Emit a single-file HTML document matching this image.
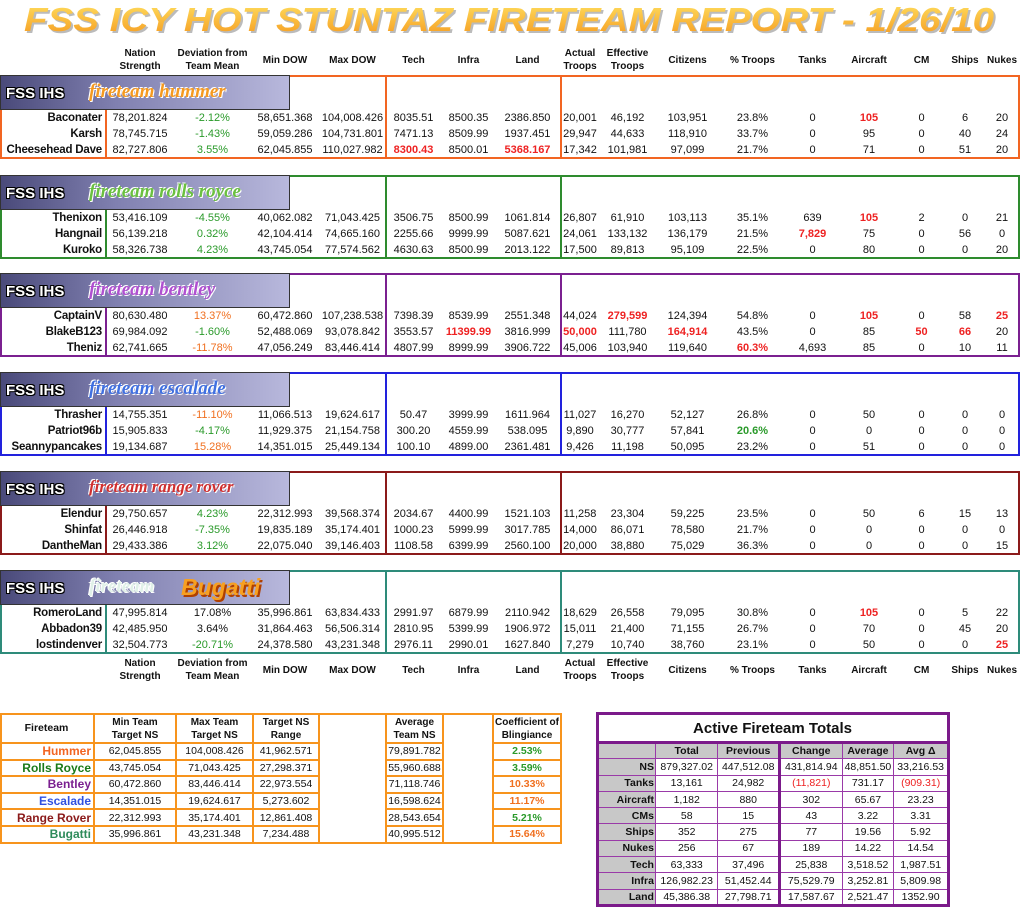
<!DOCTYPE html>
<html><head><meta charset="utf-8">
<style>
*{margin:0;padding:0;box-sizing:border-box}
body{width:1024px;height:909px;background:#fff;position:relative;overflow:hidden;font-family:"Liberation Sans",sans-serif;font-size:11px;color:#111}
.row{position:absolute;left:0;display:flex;height:16px;line-height:16px;white-space:nowrap}
.row span{text-align:center;flex:none}
.row span:nth-child(1){width:105px;text-align:right;padding-right:3px;font-weight:bold;font-size:11.5px;letter-spacing:-0.2px}
.row span:nth-child(2){width:70px}.row span:nth-child(3){width:75px}.row span:nth-child(4){width:70px}
.row span:nth-child(5){width:65px}.row span:nth-child(6){width:57px}.row span:nth-child(7){width:53px}
.row span:nth-child(8){width:65px}.row span:nth-child(9){width:40px}.row span:nth-child(10){width:55px}
.row span:nth-child(11){width:65px}.row span:nth-child(12){width:65px}.row span:nth-child(13){width:55px}
.row span:nth-child(14){width:58px}.row span:nth-child(15){width:47px}.row span:nth-child(16){width:40px}
.row span:nth-child(17){width:34px}
.hd{height:28px;line-height:13px;align-items:center;font-weight:bold;font-size:10px}
.hd span:nth-child(1){font-size:10px}
.blk{position:absolute;left:0;width:1020px;height:84px;border:2px solid}
.vl{position:absolute;top:0;bottom:0;border-left:2px solid}
.logo{position:absolute;left:-2px;top:-2px;width:290px;height:35px;background:linear-gradient(90deg,#4a4a7a,#8080b0 40%,#b8b8dc);border:1px solid #333;overflow:hidden}
.logo .f{position:absolute;left:5px;top:9px;font:bold 15px "Liberation Sans",sans-serif;color:#fff;letter-spacing:0px;text-shadow:-1px -1px 0 #000,1px -1px 0 #000,-1px 1px 0 #000,1px 1px 0 #000}
.logo .t{position:absolute;left:88px;top:5px;font:italic bold 19px "Liberation Serif",serif;color:#fff;letter-spacing:0px;text-shadow:-1px -1px 0 #fff,1px 1px 0 #fff}
.nb{position:absolute;left:-2px;top:31px;width:107px;bottom:-2px;border:2px solid}
.r{color:#ee2222;font-weight:bold}.o{color:#f07020}.g{color:#2a9a2a}
table{border-collapse:collapse;position:absolute}
</style></head><body>
<svg style="position:absolute;left:0;top:0" width="1024" height="45">
<defs><linearGradient id="tg" x1="0" y1="0" x2="0" y2="1"><stop offset="0" stop-color="#ffe060"/><stop offset="1" stop-color="#f59a20"/></linearGradient></defs>
<text x="26" y="33" textLength="970" lengthAdjust="spacingAndGlyphs" font-family="Liberation Sans" font-style="italic" font-weight="bold" font-size="33" fill="#bbb">FSS ICY HOT STUNTAZ FIRETEAM REPORT - 1/26/10</text>
<text x="24" y="31" textLength="970" lengthAdjust="spacingAndGlyphs" font-family="Liberation Sans" font-style="italic" font-weight="bold" font-size="33" fill="url(#tg)">FSS ICY HOT STUNTAZ FIRETEAM REPORT - 1/26/10</text>
</svg>

<div class="row hd" style="top:46px"><span></span><span>Nation<br>Strength</span><span>Deviation from<br>Team Mean</span><span>Min DOW</span><span>Max DOW</span><span>Tech</span><span>Infra</span><span>Land</span><span>Actual<br>Troops</span><span>Effective<br>Troops</span><span>Citizens</span><span>% Troops</span><span>Tanks</span><span>Aircraft</span><span>CM</span><span>Ships</span><span>Nukes</span></div>

<div class="blk" style="top:75px;border-color:#f26522"><div class="vl" style="left:383px;border-color:#f26522"></div><div class="vl" style="left:558px;border-color:#f26522"></div><div class="nb" style="border-color:#f26522"></div><div class="logo"><span class="f">FSS IHS</span><span class="t" style="color:#f59a20">fireteam hummer</span></div></div>
<div class="row" style="top:110px"><span>Baconater</span><span>78,201.824</span><span class="g">-2.12%</span><span>58,651.368</span><span>104,008.426</span><span>8035.51</span><span>8500.35</span><span>2386.850</span><span>20,001</span><span>46,192</span><span>103,951</span><span>23.8%</span><span>0</span><span class="r">105</span><span>0</span><span>6</span><span>20</span></div>
<div class="row" style="top:126px"><span>Karsh</span><span>78,745.715</span><span class="g">-1.43%</span><span>59,059.286</span><span>104,731.801</span><span>7471.13</span><span>8509.99</span><span>1937.451</span><span>29,947</span><span>44,633</span><span>118,910</span><span>33.7%</span><span>0</span><span>95</span><span>0</span><span>40</span><span>24</span></div>
<div class="row" style="top:142px"><span>Cheesehead Dave</span><span>82,727.806</span><span class="g">3.55%</span><span>62,045.855</span><span>110,027.982</span><span class="r">8300.43</span><span>8500.01</span><span class="r">5368.167</span><span>17,342</span><span>101,981</span><span>97,099</span><span>21.7%</span><span>0</span><span>71</span><span>0</span><span>51</span><span>20</span></div>

<div class="blk" style="top:175px;border-color:#2e8b2e"><div class="vl" style="left:383px;border-color:#2e8b2e"></div><div class="vl" style="left:558px;border-color:#2e8b2e"></div><div class="nb" style="border-color:#2e8b2e"></div><div class="logo"><span class="f">FSS IHS</span><span class="t" style="color:#6ac040">fireteam rolls royce</span></div></div>
<div class="row" style="top:210px"><span>Thenixon</span><span>53,416.109</span><span class="g">-4.55%</span><span>40,062.082</span><span>71,043.425</span><span>3506.75</span><span>8500.99</span><span>1061.814</span><span>26,807</span><span>61,910</span><span>103,113</span><span>35.1%</span><span>639</span><span class="r">105</span><span>2</span><span>0</span><span>21</span></div>
<div class="row" style="top:226px"><span>Hangnail</span><span>56,139.218</span><span class="g">0.32%</span><span>42,104.414</span><span>74,665.160</span><span>2255.66</span><span>9999.99</span><span>5087.621</span><span>24,061</span><span>133,132</span><span>136,179</span><span>21.5%</span><span class="r">7,829</span><span>75</span><span>0</span><span>56</span><span>0</span></div>
<div class="row" style="top:242px"><span>Kuroko</span><span>58,326.738</span><span class="g">4.23%</span><span>43,745.054</span><span>77,574.562</span><span>4630.63</span><span>8500.99</span><span>2013.122</span><span>17,500</span><span>89,813</span><span>95,109</span><span>22.5%</span><span>0</span><span>80</span><span>0</span><span>0</span><span>20</span></div>

<div class="blk" style="top:273px;border-color:#7b2090"><div class="vl" style="left:383px;border-color:#7b2090"></div><div class="vl" style="left:558px;border-color:#7b2090"></div><div class="nb" style="border-color:#7b2090"></div><div class="logo"><span class="f">FSS IHS</span><span class="t" style="color:#b050d0">fireteam bentley</span></div></div>
<div class="row" style="top:308px"><span>CaptainV</span><span>80,630.480</span><span class="o">13.37%</span><span>60,472.860</span><span>107,238.538</span><span>7398.39</span><span>8539.99</span><span>2551.348</span><span>44,024</span><span class="r">279,599</span><span>124,394</span><span>54.8%</span><span>0</span><span class="r">105</span><span>0</span><span>58</span><span class="r">25</span></div>
<div class="row" style="top:324px"><span>BlakeB123</span><span>69,984.092</span><span class="g">-1.60%</span><span>52,488.069</span><span>93,078.842</span><span>3553.57</span><span class="r">11399.99</span><span>3816.999</span><span class="r">50,000</span><span>111,780</span><span class="r">164,914</span><span>43.5%</span><span>0</span><span>85</span><span class="r">50</span><span class="r">66</span><span>20</span></div>
<div class="row" style="top:340px"><span>Theniz</span><span>62,741.665</span><span class="o">-11.78%</span><span>47,056.249</span><span>83,446.414</span><span>4807.99</span><span>8999.99</span><span>3906.722</span><span>45,006</span><span>103,940</span><span>119,640</span><span class="r">60.3%</span><span>4,693</span><span>85</span><span>0</span><span>10</span><span>11</span></div>

<div class="blk" style="top:372px;border-color:#2222dd"><div class="vl" style="left:383px;border-color:#2222dd"></div><div class="vl" style="left:558px;border-color:#2222dd"></div><div class="nb" style="border-color:#2222dd"></div><div class="logo"><span class="f">FSS IHS</span><span class="t" style="color:#4070e0">fireteam escalade</span></div></div>
<div class="row" style="top:407px"><span>Thrasher</span><span>14,755.351</span><span class="o">-11.10%</span><span>11,066.513</span><span>19,624.617</span><span>50.47</span><span>3999.99</span><span>1611.964</span><span>11,027</span><span>16,270</span><span>52,127</span><span>26.8%</span><span>0</span><span>50</span><span>0</span><span>0</span><span>0</span></div>
<div class="row" style="top:423px"><span>Patriot96b</span><span>15,905.833</span><span class="g">-4.17%</span><span>11,929.375</span><span>21,154.758</span><span>300.20</span><span>4559.99</span><span>538.095</span><span>9,890</span><span>30,777</span><span>57,841</span><span class="g" style="font-weight:bold">20.6%</span><span>0</span><span>0</span><span>0</span><span>0</span><span>0</span></div>
<div class="row" style="top:439px"><span>Seannypancakes</span><span>19,134.687</span><span class="o">15.28%</span><span>14,351.015</span><span>25,449.134</span><span>100.10</span><span>4899.00</span><span>2361.481</span><span>9,426</span><span>11,198</span><span>50,095</span><span>23.2%</span><span>0</span><span>51</span><span>0</span><span>0</span><span>0</span></div>

<div class="blk" style="top:471px;border-color:#8b1a1a"><div class="vl" style="left:383px;border-color:#8b1a1a"></div><div class="vl" style="left:558px;border-color:#8b1a1a"></div><div class="nb" style="border-color:#8b1a1a"></div><div class="logo"><span class="f">FSS IHS</span><span class="t" style="color:#d03030;font-size:17px">fireteam range rover</span></div></div>
<div class="row" style="top:506px"><span>Elendur</span><span>29,750.657</span><span class="g">4.23%</span><span>22,312.993</span><span>39,568.374</span><span>2034.67</span><span>4400.99</span><span>1521.103</span><span>11,258</span><span>23,304</span><span>59,225</span><span>23.5%</span><span>0</span><span>50</span><span>6</span><span>15</span><span>13</span></div>
<div class="row" style="top:522px"><span>Shinfat</span><span>26,446.918</span><span class="g">-7.35%</span><span>19,835.189</span><span>35,174.401</span><span>1000.23</span><span>5999.99</span><span>3017.785</span><span>14,000</span><span>86,071</span><span>78,580</span><span>21.7%</span><span>0</span><span>0</span><span>0</span><span>0</span><span>0</span></div>
<div class="row" style="top:538px"><span>DantheMan</span><span>29,433.386</span><span class="g">3.12%</span><span>22,075.040</span><span>39,146.403</span><span>1108.58</span><span>6399.99</span><span>2560.100</span><span>20,000</span><span>38,880</span><span>75,029</span><span>36.3%</span><span>0</span><span>0</span><span>0</span><span>0</span><span>15</span></div>

<div class="blk" style="top:570px;border-color:#2e8b7a"><div class="vl" style="left:383px;border-color:#2e8b7a"></div><div class="vl" style="left:558px;border-color:#2e8b7a"></div><div class="nb" style="border-color:#2e8b7a"></div><div class="logo"><span class="f">FSS IHS</span><span class="t" style="color:#e0f0e8">fireteam</span><span style="position:absolute;left:180px;top:3px;font:italic bold 23px 'Liberation Sans',sans-serif;color:#f7a020;text-shadow:2px 2px 0 #b04000">Bugatti</span></div></div>
<div class="row" style="top:605px"><span>RomeroLand</span><span>47,995.814</span><span>17.08%</span><span>35,996.861</span><span>63,834.433</span><span>2991.97</span><span>6879.99</span><span>2110.942</span><span>18,629</span><span>26,558</span><span>79,095</span><span>30.8%</span><span>0</span><span class="r">105</span><span>0</span><span>5</span><span>22</span></div>
<div class="row" style="top:621px"><span>Abbadon39</span><span>42,485.950</span><span>3.64%</span><span>31,864.463</span><span>56,506.314</span><span>2810.95</span><span>5399.99</span><span>1906.972</span><span>15,011</span><span>21,400</span><span>71,155</span><span>26.7%</span><span>0</span><span>70</span><span>0</span><span>45</span><span>20</span></div>
<div class="row" style="top:637px"><span>lostindenver</span><span>32,504.773</span><span class="g">-20.71%</span><span>24,378.580</span><span>43,231.348</span><span>2976.11</span><span>2990.01</span><span>1627.840</span><span>7,279</span><span>10,740</span><span>38,760</span><span>23.1%</span><span>0</span><span>50</span><span>0</span><span>0</span><span class="r">25</span></div>

<div class="row hd" style="top:656px"><span></span><span>Nation<br>Strength</span><span>Deviation from<br>Team Mean</span><span>Min DOW</span><span>Max DOW</span><span>Tech</span><span>Infra</span><span>Land</span><span>Actual<br>Troops</span><span>Effective<br>Troops</span><span>Citizens</span><span>% Troops</span><span>Tanks</span><span>Aircraft</span><span>CM</span><span>Ships</span><span>Nukes</span></div>

<table style="left:0;top:713px;width:562px;font-size:10.5px;border:2px solid #f7941d">
<colgroup><col style="width:93px"><col style="width:82px"><col style="width:77px"><col style="width:66px"><col style="width:67px"><col style="width:57px"><col style="width:50px"><col style="width:68px"></colgroup>
<style>.bl td{border:2px solid #f7941d;text-align:center;height:16.6px;padding:0}.bl tr:first-child td{height:29px;font-weight:bold;font-size:10px;line-height:13px}.bl td:first-child{text-align:right;font-weight:bold;font-size:12px;padding-right:2px}.bl tr:first-child td:first-child{text-align:center;font-size:10.5px}.bl td:nth-child(5),.bl td:nth-child(7){border-top:0;border-bottom:0}</style>
<tbody class="bl">
<tr><td>Fireteam</td><td>Min Team<br>Target NS</td><td>Max Team<br>Target NS</td><td>Target NS<br>Range</td><td></td><td>Average<br>Team NS</td><td></td><td>Coefficient of<br>Blingiance</td></tr>
<tr><td style="color:#f26522">Hummer</td><td>62,045.855</td><td>104,008.426</td><td>41,962.571</td><td></td><td>79,891.782</td><td></td><td class="g" style="font-weight:bold">2.53%</td></tr>
<tr><td style="color:#1a7a1a">Rolls Royce</td><td>43,745.054</td><td>71,043.425</td><td>27,298.371</td><td></td><td>55,960.688</td><td></td><td class="g" style="font-weight:bold">3.59%</td></tr>
<tr><td style="color:#7b2090">Bentley</td><td>60,472.860</td><td>83,446.414</td><td>22,973.554</td><td></td><td>71,118.746</td><td></td><td class="o" style="font-weight:bold">10.33%</td></tr>
<tr><td style="color:#3050e0">Escalade</td><td>14,351.015</td><td>19,624.617</td><td>5,273.602</td><td></td><td>16,598.624</td><td></td><td class="o" style="font-weight:bold">11.17%</td></tr>
<tr><td style="color:#8b1a1a">Range Rover</td><td>22,312.993</td><td>35,174.401</td><td>12,861.408</td><td></td><td>28,543.654</td><td></td><td class="g" style="font-weight:bold">5.21%</td></tr>
<tr><td style="color:#2e8b5a">Bugatti</td><td>35,996.861</td><td>43,231.348</td><td>7,234.488</td><td></td><td>40,995.512</td><td></td><td class="o" style="font-weight:bold">15.64%</td></tr>
</tbody></table>

<table style="left:596px;top:712px;width:354px;font-size:10.5px;border:3px solid #7b1a8a">
<colgroup><col style="width:59px"><col style="width:63px"><col style="width:62px"><col style="width:63px"><col style="width:52px"><col style="width:55px"></colgroup>
<style>.br td{border:1px solid #9a3aa8;text-align:center;height:16.3px;padding:0}.br td:first-child{background:#c8c8c8;text-align:right;font-weight:bold;padding-right:1px}.br tr:nth-child(2) td{background:#c8c8c8;font-weight:bold}.br td:nth-child(3){border-right:3px solid #7b1a8a}</style>
<tbody class="br">
<tr><td colspan="6" style="background:#fff;text-align:center;font-size:15px;font-weight:bold;height:29px;border-bottom:3px solid #7b1a8a;border-right:1px solid #9a3aa8">Active Fireteam Totals</td></tr>
<tr><td></td><td>Total</td><td>Previous</td><td>Change</td><td>Average</td><td>Avg Δ</td></tr>
<tr><td>NS</td><td>879,327.02</td><td>447,512.08</td><td>431,814.94</td><td>48,851.50</td><td>33,216.53</td></tr>
<tr><td>Tanks</td><td>13,161</td><td>24,982</td><td style="color:#ee2222">(11,821)</td><td>731.17</td><td style="color:#ee2222">(909.31)</td></tr>
<tr><td>Aircraft</td><td>1,182</td><td>880</td><td>302</td><td>65.67</td><td>23.23</td></tr>
<tr><td>CMs</td><td>58</td><td>15</td><td>43</td><td>3.22</td><td>3.31</td></tr>
<tr><td>Ships</td><td>352</td><td>275</td><td>77</td><td>19.56</td><td>5.92</td></tr>
<tr><td>Nukes</td><td>256</td><td>67</td><td>189</td><td>14.22</td><td>14.54</td></tr>
<tr><td>Tech</td><td>63,333</td><td>37,496</td><td>25,838</td><td>3,518.52</td><td>1,987.51</td></tr>
<tr><td>Infra</td><td>126,982.23</td><td>51,452.44</td><td>75,529.79</td><td>3,252.81</td><td>5,809.98</td></tr>
<tr><td>Land</td><td>45,386.38</td><td>27,798.71</td><td>17,587.67</td><td>2,521.47</td><td>1352.90</td></tr>
</tbody></table>
</body></html>
